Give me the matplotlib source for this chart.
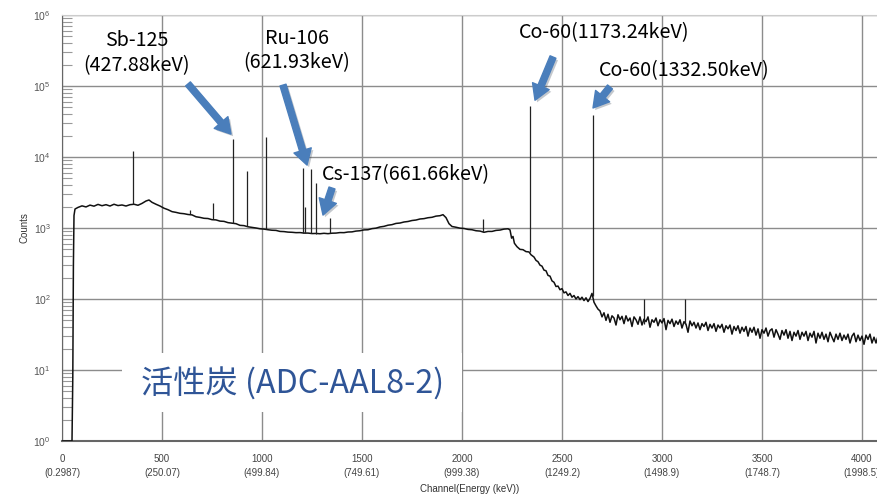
import numpy as np
import matplotlib.pyplot as plt
import matplotlib.patheffects as pe
from matplotlib.patches import Rectangle

# continuum of the spectrum (channel, counts)
spec_ch = [0, 50, 54, 57, 60, 65, 80, 100, 120, 140, 160, 180, 200, 220, 240, 260, 280, 300,
           320, 340, 360, 380, 400, 420, 435, 450, 470, 490, 510, 530, 550, 570, 590, 610,
           630, 650, 670, 690, 710, 730, 750, 770, 790, 810, 830, 850, 870, 890, 910, 930,
           950, 970, 990, 1010, 1030, 1050, 1070, 1090, 1110, 1130, 1150, 1170, 1190, 1210,
           1230, 1250, 1270, 1290, 1310, 1330, 1350, 1370, 1390, 1410, 1430, 1450, 1470,
           1490, 1510, 1530, 1550, 1570, 1590, 1610, 1630, 1650, 1670, 1690, 1710, 1730,
           1750, 1770, 1790, 1810, 1830, 1850, 1870, 1890, 1905, 1920, 1935, 1950, 1970,
           1990, 2010, 2030, 2050, 2070, 2090, 2110, 2130, 2150, 2170, 2190, 2210, 2230,
           2240, 2248, 2255, 2262, 2275, 2290, 2305, 2320, 2335, 2345, 2360, 2370, 2380,
           2390, 2400, 2410, 2420, 2430, 2440, 2450, 2460, 2470, 2480, 2490, 2500, 2510,
           2520, 2530, 2540, 2550, 2560, 2570, 2580, 2590, 2600, 2610, 2620, 2630, 2640,
           2650, 2660, 2670, 2680,
           2690, 2700, 2710, 2720, 2730, 2740, 2750, 2760, 2770, 2780, 2790, 2800, 2810,
           2820, 2830, 2840, 2850, 2860, 2870, 2880, 2890, 2900, 2910, 2920, 2930, 2940,
           2950, 2960, 2970, 2980, 2990, 3000, 3010, 3020, 3030, 3040, 3050, 3060, 3070,
           3080, 3090, 3100, 3110, 3120, 3130, 3140, 3150, 3160, 3170, 3180, 3190, 3200,
           3210, 3220, 3230, 3240, 3250, 3260, 3270, 3280, 3290, 3300, 3310, 3320, 3330,
           3340, 3350, 3360, 3370, 3380, 3390, 3400, 3410, 3420, 3430, 3440, 3450, 3460,
           3470, 3480, 3490, 3500, 3510, 3520, 3530, 3540, 3550, 3560, 3570, 3580, 3590,
           3600, 3610, 3620, 3630, 3640, 3650, 3660, 3670, 3680, 3690, 3700, 3710, 3720,
           3730, 3740, 3750, 3760, 3770, 3780, 3790, 3800, 3810, 3820, 3830, 3840, 3850,
           3860, 3870, 3880, 3890, 3900, 3910, 3920, 3930, 3940, 3950, 3960, 3970, 3980,
           3990, 4000, 4010, 4020, 4030, 4040, 4050, 4060, 4070, 4080]
spec_counts = [1, 1, 8, 300, 1500, 1850, 1950, 2050, 1980, 2100, 2030, 2150, 2060, 2130, 2040,
               2160, 2070, 2110, 2040, 2130, 2160, 2090, 2220, 2400, 2480, 2300, 2160, 2040,
               1900, 1810, 1700, 1660, 1610, 1590, 1550, 1530, 1440, 1410, 1370, 1360, 1310,
               1300, 1250, 1240, 1190, 1170, 1150, 1090, 1080, 1040, 1020, 1000, 975, 965,
               945, 930, 925, 895, 890, 875, 870, 860, 862, 848, 848, 835, 838, 830, 842,
               832, 845, 848, 862, 860, 878, 882, 905, 915, 940, 945, 980, 995, 1035, 1055,
               1095, 1115, 1160, 1175, 1215, 1235, 1275, 1295, 1340, 1355, 1395, 1415, 1470,
               1490, 1540, 1400, 1150, 1050, 1025, 995, 985, 955, 945, 915, 905, 870, 895,
               895, 925, 935, 965, 975, 940, 720, 760, 610, 545, 500, 495, 465, 460, 420, 390,
               350, 335, 300, 290, 255, 250, 215, 210, 180, 172, 150, 152, 135, 140, 122, 126,
               112, 120, 106, 112, 100, 108, 98, 106, 95, 104, 92, 102, 120, 90, 80, 72,
               68, 56, 64, 50, 61, 47, 58, 54, 43, 60,
               51, 57, 45, 58, 49, 54, 41, 56, 51, 44,
               56, 43, 52, 48, 56, 40, 51, 47, 54, 42,
               51, 46, 53, 37, 50, 45, 52, 41, 49, 44,
               51, 39, 48, 44, 34, 49, 42, 47, 39, 46,
               37, 45, 41, 47, 36, 44, 39, 45, 35, 43,
               39, 44, 34, 42, 38, 43, 32, 41, 36, 42,
               33, 40, 35, 41, 30, 39, 34, 40, 31, 38,
               28, 37, 33, 39, 30, 36, 38, 29, 37, 32,
               27, 36, 31, 37, 28, 35, 26, 34, 30, 36,
               27, 34, 30, 35, 26, 33, 29, 35, 24, 33,
               28, 34, 27, 32, 25, 34, 29, 25, 32, 27,
               33, 26, 31, 27, 32, 24, 30, 33, 25, 31,
               26, 30, 23, 31, 27, 32, 24, 29, 24, 30]

# photopeaks: channel, continuum under the peak, peak top
peak_ch = [355, 640, 755, 855, 925, 1020, 1203, 1215, 1243, 1270, 1340, 2105, 2340, 2655, 2910, 3115]
peak_base = [2150, 1560, 1320, 1170, 1050, 960, 855, 850, 842, 835, 845, 880, 460, 110, 44, 44]
peak_top = [12000, 1800, 2250, 18000, 6300, 19000, 7000, 2000, 6800, 4300, 1400, 1340, 52000, 39000, 100, 100]

xtick_pos = [0, 500, 1000, 1500, 2000, 2500, 3000, 3500, 4000]
xtick_energy = ["0.2987", "250.07", "499.84", "749.61", "999.38", "1249.2", "1498.9", "1748.7", "1998.5"]

# label text, text position, arrow tail, arrow tip
notes = [
    ("Sb-125\n(427.88keV)", (375, 10**5.46), (630, 1.07e5), (845, 2.1e4)),
    ("Ru-106\n(621.93keV)", (1175, 10**5.50), (1105, 1.03e5), (1225, 7.7e3)),
    ("Cs-137(661.66keV)", (1720, 10**3.746), (1350, 3.66e3), (1305, 1.52e3)),
    ("Co-60(1173.24keV)", (2710, 10**5.746), (2455, 2.56e5), (2365, 6.3e4)),
    ("Co-60(1332.50keV)", (3110, 10**5.211), (2740, 9.7e4), (2655, 4.9e4)),
]
sample_name = "活性炭 (ADC-AAL8-2)"

fig = plt.figure(figsize=(8.77, 4.94), dpi=100)
ax = fig.add_axes([62/877, 1 - 441/494, 815/877, 426/494])

ax.plot(spec_ch, spec_counts, color='#111111', lw=1.1, zorder=3)
ax.vlines(peak_ch, peak_base, peak_top, color='#222222', lw=0.9, zorder=3)

ax.set_yscale('log')
ax.set_ylim(1, 1e6)
ax.set_xlim(0, 4075)

ax.set_xticks(xtick_pos)
ax.set_xticklabels([f"{p}\n({e})" for p, e in zip(xtick_pos, xtick_energy)],
                   fontsize=7, color='#444444', family='Liberation Sans', linespacing=1.5)
ax.set_yticks([10**k for k in range(7)])
ax.tick_params(axis='x', length=0, pad=9)
ax.tick_params(axis='y', which='major', length=0, pad=8, labelsize=7.5, labelcolor='#555555')
ax.tick_params(axis='y', which='minor', direction='in', length=7, width=0.8, color='#999999')
ax.tick_params(axis='x', which='minor', length=0)
for lab in ax.get_yticklabels():
    lab.set_family('Liberation Sans')

ax.grid(True, which='major', color='#8c8c8c', lw=1.0)
ax.set_axisbelow(True)

ax.spines['right'].set_visible(False)
ax.spines['top'].set_color('#cccccc')
ax.spines['left'].set_color('#666666')
ax.spines['bottom'].set_color('#666666')
ax.spines['bottom'].set_linewidth(1.5)

ax.set_xlabel("Channel(Energy (keV))", fontsize=7, color='#333333', family='Liberation Sans', labelpad=5)
ax.set_ylabel("Counts", fontsize=7, color='#333333', family='Liberation Sans', labelpad=3)

font_list = ['Noto Sans CJK JP', 'DejaVu Sans']
for text, pos, tail, tip in notes:
    ax.text(pos[0], pos[1], text, ha='center', va='center', fontsize=14.2,
            family=font_list, linespacing=1.25, zorder=5)
    arr = ax.annotate('', xy=tip, xytext=tail,
                      arrowprops=dict(arrowstyle='simple,head_width=1.3,head_length=1.1,tail_width=0.45',
                                      color='#4a7ebb', mutation_scale=10, shrinkA=0, shrinkB=0),
                      zorder=6)
    arr.arrow_patch.set_path_effects([pe.withSimplePatchShadow(offset=(1.5, -1.5), alpha=0.25)])

# white box behind the sample name
ax.add_patch(Rectangle((60/815, 29/426), 340/815, 59/426, transform=ax.transAxes,
                       facecolor='white', edgecolor='none', zorder=1.5))
ax.text(1155, 10**0.80, sample_name, ha='center', va='center', fontsize=23.2,
        color='#2f5597', family=font_list, zorder=5)

fig.savefig('out.png', dpi=100)
